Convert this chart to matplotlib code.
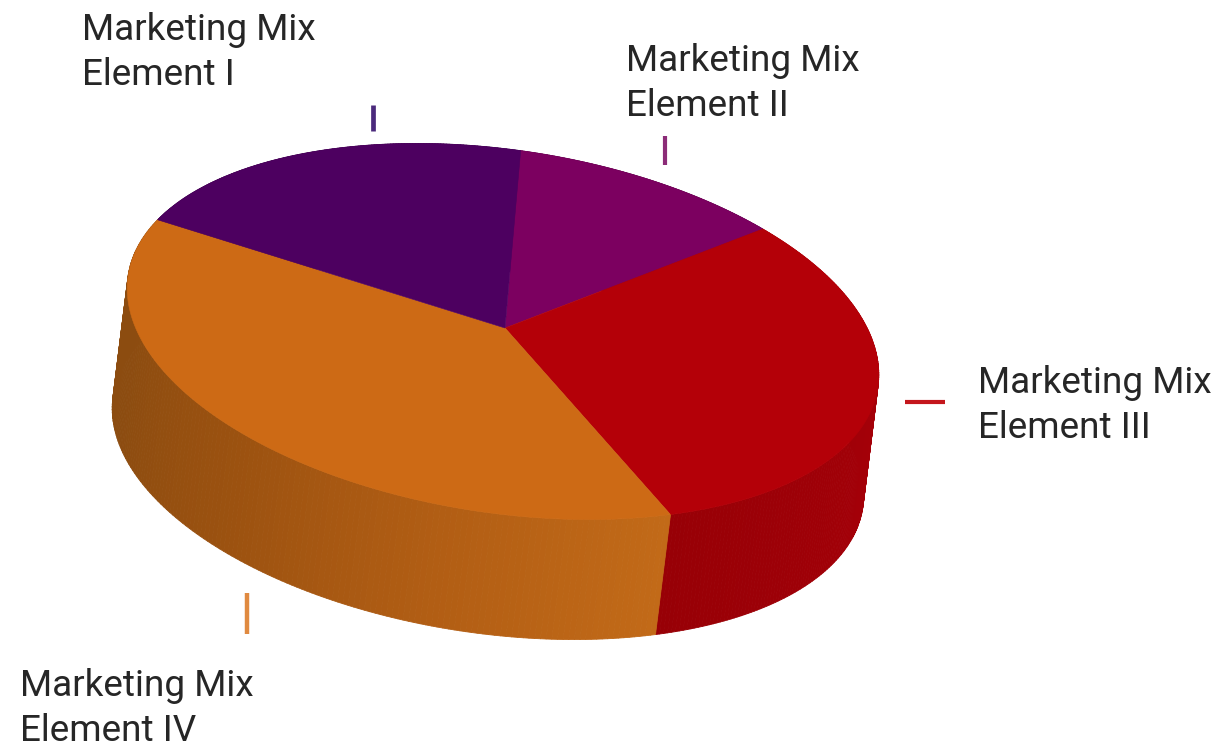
import numpy as np
import matplotlib
matplotlib.use('Agg')
import matplotlib.pyplot as plt
from matplotlib.collections import PolyCollection
from matplotlib.colors import to_rgb
from matplotlib.transforms import Affine2D

plt.rcParams['font.family'] = ['Roboto', 'DejaVu Sans']

# Slice shares in percent, clockwise starting from the Element II slice
names = ['Element II', 'Element III', 'Element IV', 'Element I']
shares = [11.4, 30.5, 38.8, 19.3]
top_colors = ['#7c0060', '#b40008', '#cd6a15', '#4d0060']
# wall shades along each slice, clockwise
wall_shades = [
    ['#5c0048', '#5c0048'],
    ['#a80008', '#a40008', '#980006'],
    ['#c26a18', '#b25e14', '#9c5210', '#8c4c10', '#8c4c10'],
    ['#3a0048', '#3a0048'],
]

# Pie geometry in pixels
cx, cy = 503, 331.5
apex = (505, 328)
rx, ry = 379, 181.5
tilt = 8.5
depth = (-15, 120)
start = -1.4

fig = plt.figure(figsize=(12.16, 7.43), dpi=100)
ax = fig.add_axes([0, 0, 1, 1])
ax.set_xlim(0, 1216)
ax.set_ylim(743, 0)
ax.axis('off')

disc = Affine2D().scale(rx, ry).rotate_deg(tilt).translate(cx, cy)


def rim(angles):
    # points on the top rim for clockwise angles measured from straight up
    t = np.radians(angles - 90)
    return disc.transform(np.column_stack([np.cos(t), np.sin(t)]))


edges = start + np.cumsum([0] + shares) * 3.6

# Outer wall, built from narrow strips so the shade can change along it.
# Strips are sorted by height so the front of the wall is painted last.
strips = []
colors = []
for i in range(len(shares)):
    angles = np.linspace(edges[i], edges[i + 1], 160)
    pts = rim(angles)
    stops = np.array([to_rgb(c) for c in wall_shades[i]])
    pos = np.linspace(0, 1, len(stops))
    for j in range(len(angles) - 1):
        a, b = pts[j], pts[j + 1]
        f = j / (len(angles) - 2)
        strips.append([a, b, b + depth, a + depth])
        colors.append([np.interp(f, pos, stops[:, k]) for k in range(3)])
order = np.argsort([s[0][1] for s in strips])
strips = [strips[k] for k in order]
colors = [colors[k] for k in order]
ax.add_collection(PolyCollection(strips, facecolors=colors, edgecolors=colors,
                                 linewidths=0.6, zorder=1))

# Top face
for i in range(len(shares)):
    outline = np.vstack([apex, rim(np.linspace(edges[i], edges[i + 1], 200))])
    ax.fill(outline[:, 0], outline[:, 1], color=top_colors[i], lw=0.4, zorder=2)

# Short leader marks next to the labels
ax.plot([373, 373], [105, 131], color='#4b2a7c', lw=3.4, solid_capstyle='butt')
ax.plot([665, 665], [136, 165], color='#8c2c78', lw=3.0, solid_capstyle='butt')
ax.plot([905, 945], [402, 402], color='#c4161c', lw=3.0, solid_capstyle='butt')
ax.plot([247, 247], [593, 634], color='#e08a40', lw=3.2, solid_capstyle='butt')

# Labels, one text per line
label_x = [626, 978, 20, 82]
label_y = [71, 393, 696, 40]
for name, x, y in zip(names, label_x, label_y):
    ax.text(x, y, 'Marketing Mix', fontsize=26.6, color='#262626', ha='left', va='baseline')
    ax.text(x, y + 45, name, fontsize=26.6, color='#262626', ha='left', va='baseline')

fig.savefig('out.png', dpi=100)
